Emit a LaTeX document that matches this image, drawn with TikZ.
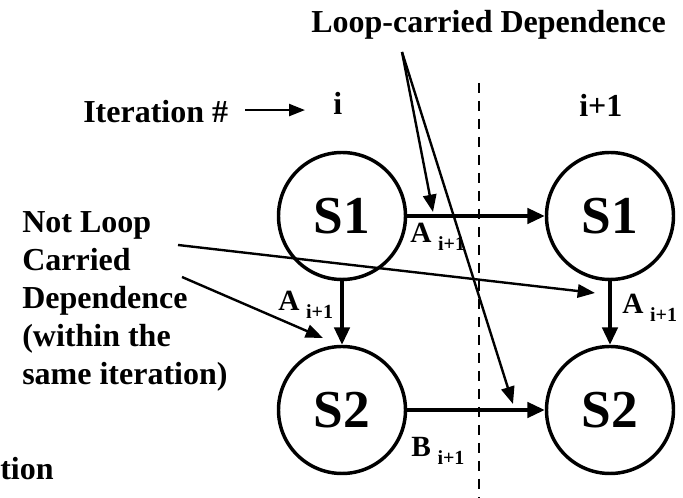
\documentclass[tikz,border=0pt]{standalone}
\usepackage{fontspec}
\setmainfont{Liberation Serif}
\usetikzlibrary{arrows.meta}
\begin{document}
\begin{tikzpicture}[x=0.75pt,y=-0.75pt,
  stmt/.style={circle,draw,line width=2.6pt,minimum size=95.25pt,inner sep=0pt,font=\bfseries\fontsize{40}{41}\selectfont},
  flow/.style={line width=2.6pt,-{Triangle[length=13pt,width=11.5pt]}},
  thinarrow/.style={line width=1.8pt,-{Triangle[length=13pt,width=10pt]}},
  lbl/.style={anchor=base west,inner sep=0pt,font=\bfseries\fontsize{24}{28.5}\selectfont},
  edgelbl/.style={anchor=base west,inner sep=0pt,font=\bfseries\fontsize{22}{26}\selectfont}]
\useasboundingbox (0,0) rectangle (683,498);

% statements
\node[stmt] (s1l) at (342,216) {S1};
\node[stmt] (s1r) at (610,216) {S1};
\node[stmt] (s2l) at (342,410) {S2};
\node[stmt] (s2r) at (610,410) {S2};

% iteration separator
\coordinate (septop) at (479,83);
\coordinate (sepbot) at (479,498);
\draw[line width=2.2pt,dash pattern=on 7.5pt off 6pt] (septop) -- (sepbot);

% dependence arrows
\draw[flow] (s1l) -- (s1r);
\draw[flow] (s2l) -- (s2r);
\draw[flow] (s1l) -- (s2l);
\draw[flow] (s1r) -- (s2r);

% edge labels
\node[edgelbl] (a1) at (410,243) {A\hspace{5pt}\raisebox{-6pt}{\fontsize{15}{17}\selectfont i+1}};
\node[edgelbl] (a2) at (278,311) {A\hspace{5pt}\raisebox{-6pt}{\fontsize{15}{17}\selectfont i+1}};
\node[edgelbl] (a3) at (622,314) {A\hspace{5pt}\raisebox{-6pt}{\fontsize{15}{17}\selectfont i+1}};
\node[edgelbl] (b1) at (411,457) {B\hspace{5pt}\raisebox{-6pt}{\fontsize{15}{17}\selectfont i+1}};

% header
\node[lbl] (lcd) at (311,33) {Loop-carried Dependence};
\node[lbl] (iter) at (83,123) {Iteration \#};
\node[lbl] (ii) at (333,115) {i};
\node[lbl] (ii1) at (579,117) {i+1};
\draw[line width=1.8pt,-{Triangle[length=12pt,width=9pt]},shorten <=12.75pt,shorten >=21pt]
  (iter.east) ++(0,-2) coordinate (iterarr) -- (iterarr -| ii.west);

% loop-carried pointers
\coordinate (lcdsrc) at (402,52);
\coordinate (lcdend1) at (433,212);
\coordinate (lcdend2) at (513,404);
\draw[thinarrow] (lcdsrc) -- (lcdend1);
\draw[thinarrow] (lcdsrc) -- (lcdend2);

% not loop carried text
\node[anchor=north west,inner sep=0pt,align=left,font=\bfseries\fontsize{24}{28.5}\selectfont] (nlc) at (22,211)
  {Not Loop\\Carried\\Dependence\\(within the\\same iteration)};
\coordinate (nlcsrc1) at (178,245);
\coordinate (nlcsrc2) at (182,277);
\coordinate (nlcend1) at (595,293);
\coordinate (nlcend2) at (323,338);
\draw[thinarrow] (nlcsrc1) -- (nlcend1);
\draw[thinarrow] (nlcsrc2) -- (nlcend2);

% cut-off text
\node[lbl] (tion) at (0,480) {tion};
\end{tikzpicture}
\end{document}
